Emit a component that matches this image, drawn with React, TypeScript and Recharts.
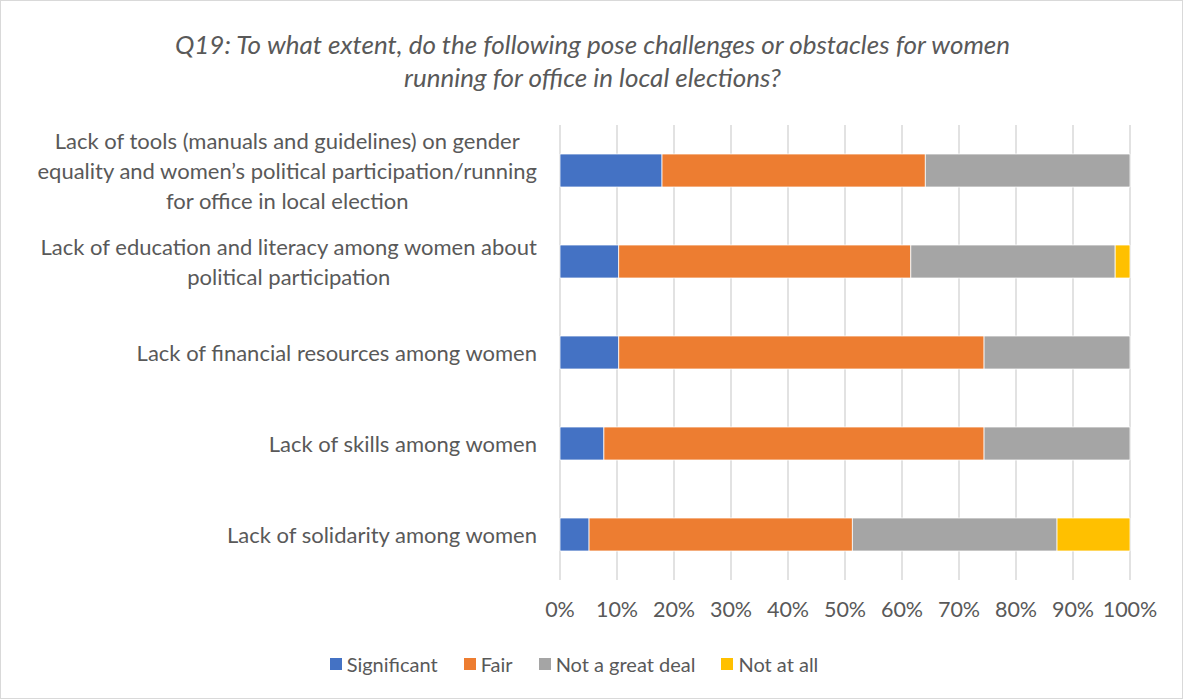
import React from 'react';
import { BarChart, Bar, XAxis, YAxis, CartesianGrid } from 'recharts';

const titleLines = [
  'Q19: To what extent, do the following pose challenges or obstacles for women',
  'running for office in local elections?',
];

const categories = [
  'Lack of tools (manuals and guidelines) on gender\nequality and women\u2019s political participation/running\nfor office in local election',
  'Lack of education and literacy among women about\npolitical participation',
  'Lack of financial resources among women',
  'Lack of skills among women',
  'Lack of solidarity among women',
];

const significant = [17.9, 10.3, 10.3, 7.7, 5.1];
const fair = [46.2, 51.3, 64.1, 66.7, 46.2];
const notGreatDeal = [35.9, 35.9, 25.6, 25.6, 35.9];
const notAtAll = [0, 2.6, 0, 0, 12.8];

const xTicks = [0, 0.1, 0.2, 0.3, 0.4, 0.5, 0.6, 0.7, 0.8, 0.9, 1];

const seriesNames = ['Significant', 'Fair', 'Not a great deal', 'Not at all'];
const seriesKeys = ['significant', 'fair', 'notGreatDeal', 'notAtAll'];
const seriesColors = ['#4472C4', '#ED7D31', '#A5A5A5', '#FFC000'];

const data = categories.map((name, i) => ({
  name,
  significant: significant[i],
  fair: fair[i],
  notGreatDeal: notGreatDeal[i],
  notAtAll: notAtAll[i],
}));

const FONT = 'Lato, "Open Sans", sans-serif';
const TEXT = '#595959';

const CategoryTick = (props: any) => {
  const { x, y, payload } = props;
  const h = 120;
  return (
    <foreignObject x={0} y={y - h / 2} width={x} height={h}>
      <div
        style={{
          width: '100%',
          height: '100%',
          display: 'flex',
          alignItems: 'center',
          justifyContent: 'flex-end',
        }}
      >
        <div
          style={{
            textAlign: 'center',
            whiteSpace: 'pre',
            fontFamily: FONT,
            fontSize: 22,
            lineHeight: '30px',
            color: TEXT,
          }}
        >
          {payload.value}
        </div>
      </div>
    </foreignObject>
  );
};

export default function App() {
  return (
    <div
      style={{
        position: 'absolute',
        left: 0,
        top: 0,
        width: 1183,
        height: 699,
        boxSizing: 'border-box',
        border: '1px solid #d9d9d9',
        background: '#fff',
        fontFamily: FONT,
      }}
    >
      <div
        style={{
          position: 'absolute',
          left: 0,
          top: 27,
          width: 1183,
          textAlign: 'center',
          fontStyle: 'italic',
          fontSize: 26,
          lineHeight: '33px',
          color: TEXT,
        }}
      >
        {titleLines.map((t, i) => (
          <div key={i}>{t}</div>
        ))}
      </div>
      <div style={{ position: 'absolute', left: -1, top: -1 }}>
        <BarChart
          width={1183}
          height={699}
          data={data}
          layout="vertical"
          stackOffset="expand"
          barSize={33}
          margin={{ top: 125, right: 53, bottom: 79, left: 0 }}
        >
          <CartesianGrid horizontal={false} stroke="#d9d9d9" strokeWidth={1.5} />
          <XAxis
            type="number"
            domain={[0, 1]}
            ticks={xTicks}
            height={40}
            axisLine={false}
            tickLine={false}
            tickMargin={16}
            interval={0}
            tickFormatter={(v: number) => `${Math.round(v * 100)}%`}
            tick={{ fill: TEXT, fontSize: 21.5, fontFamily: FONT }}
          />
          <YAxis
            type="category"
            dataKey="name"
            width={560}
            axisLine={false}
            tickLine={false}
            interval={0}
            tickMargin={17}
            tick={<CategoryTick />}
          />
          {seriesKeys.map((k, i) => (
            <Bar
              key={k}
              dataKey={k}
              name={seriesNames[i]}
              stackId="a"
              fill={seriesColors[i]}
              stroke="#ffffff"
              strokeWidth={0.75}
              isAnimationActive={false}
            />
          ))}
        </BarChart>
      </div>
      <div
        style={{
          position: 'absolute',
          left: 0,
          top: 650,
          width: 1146,
          display: 'flex',
          justifyContent: 'center',
          alignItems: 'center',
          gap: 26,
          fontSize: 20,
          lineHeight: '26px',
          color: TEXT,
        }}
      >
        {seriesNames.map((n, i) => (
          <div key={n} style={{ display: 'flex', alignItems: 'center' }}>
            <span
              style={{
                display: 'inline-block',
                width: 12,
                height: 12,
                background: seriesColors[i],
                marginRight: 5,
              }}
            />
            <span>{n}</span>
          </div>
        ))}
      </div>
    </div>
  );
}
